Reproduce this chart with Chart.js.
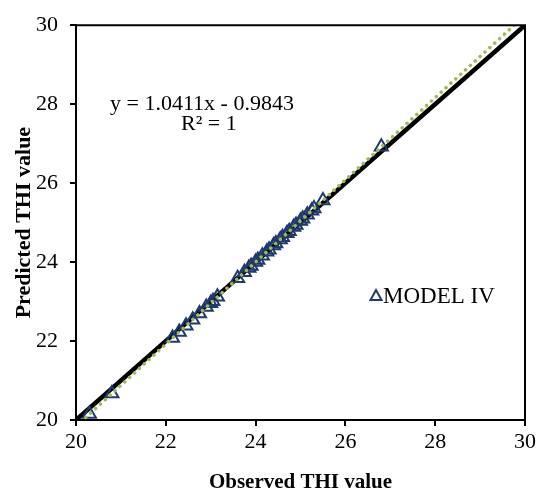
<!DOCTYPE html>
<html>
<head>
<meta charset="utf-8">
<script src="https://cdn.jsdelivr.net/npm/chart.js@4"></script>
<style>
  html, body { margin: 0; padding: 0; background: #fff; }
  #wrap { width: 545px; height: 496px; }
</style>
</head>
<body>
<div id="wrap"><canvas id="thiChart" width="545" height="496"></canvas></div>
<script>
// Observed vs predicted THI (MODEL IV)
const observed = [20.3, 20.8, 22.15, 22.3, 22.45, 22.6, 22.75, 22.9, 23.0, 23.05, 23.15,
  23.6, 23.75, 23.85, 23.9, 24.0, 24.05, 24.15, 24.25, 24.3, 24.4, 24.45, 24.55, 24.6,
  24.7, 24.75, 24.85, 24.9, 25.0, 25.05, 25.15, 25.25, 25.3, 25.5, 26.8];
const predicted = [20.15, 20.67, 22.08, 22.23, 22.39, 22.54, 22.70, 22.86, 22.96, 23.01, 23.12,
  23.59, 23.74, 23.85, 23.90, 24.00, 24.05, 24.16, 24.26, 24.31, 24.42, 24.47, 24.57, 24.63,
  24.73, 24.78, 24.89, 24.94, 25.04, 25.10, 25.20, 25.30, 25.36, 25.56, 26.92];

// 1:1 line and Excel linear trend line
const refLineX = [20, 30];
const refLineY = [20, 30];
const trendSlope = 1.0411;
const trendIntercept = -0.9843;
const trendX = [20, 30];

const axisTicks = [20, 22, 24, 26, 28, 30];

const serif = '"Liberation Serif", "Times New Roman", serif';

document.addEventListener('DOMContentLoaded', function() {
    const ctx = document.getElementById('thiChart').getContext('2d');

    // frame on top/right + equation + legend box
    const extras = {
        id: 'extras',
        afterDraw(chart) {
            const c = chart.ctx;
            const a = chart.chartArea;
            c.save();
            c.strokeStyle = '#000';
            c.lineWidth = 2;
            c.beginPath();
            c.moveTo(a.left, a.top);
            c.lineTo(a.right, a.top);
            c.lineTo(a.right, a.bottom);
            c.stroke();

            c.fillStyle = '#000';
            c.font = '22px ' + serif;
            c.textBaseline = 'alphabetic';
            c.fillText('y = 1.0411x - 0.9843', 110, 110);
            c.fillText('R\u00B2 = 1', 181, 130);

            // legend
            c.strokeStyle = '#1F3A6E';
            c.lineWidth = 2;
            c.beginPath();
            c.moveTo(376, 290);
            c.lineTo(381.5, 300);
            c.lineTo(370.5, 300);
            c.closePath();
            c.stroke();
            c.font = '23px ' + serif;
            c.fillText('MODEL IV', 383, 303);
            c.restore();
        }
    };

    new Chart(ctx, {
        type: 'scatter',
        data: {
            datasets: [
                {
                    label: 'Linear (MODEL IV)',
                    type: 'line',
                    data: trendX.map(x => ({ x: x, y: trendSlope * x + trendIntercept })),
                    borderColor: '#9BBB59',
                    borderWidth: 3.5,
                    borderDash: [0.1, 6.5],
                    borderCapStyle: 'round',
                    pointRadius: 0,
                    fill: false,
                    order: 0
                },
                {
                    label: 'MODEL IV',
                    data: observed.map((x, i) => ({ x: x, y: predicted[i] })),
                    pointStyle: 'triangle',
                    pointRadius: 7.5,
                    borderColor: '#1F3A6E',
                    borderWidth: 2,
                    backgroundColor: 'rgba(0,0,0,0)',
                    order: 1
                },
                {
                    label: '1:1',
                    type: 'line',
                    data: refLineX.map((x, i) => ({ x: x, y: refLineY[i] })),
                    borderColor: '#000',
                    borderWidth: 4.5,
                    pointRadius: 0,
                    fill: false,
                    order: 2
                }
            ]
        },
        options: {
            responsive: false,
            animation: false,
            layout: { padding: { top: 22, right: 20, left: 0, bottom: 0 } },
            plugins: {
                legend: { display: false },
                tooltip: { enabled: false }
            },
            scales: {
                x: {
                    type: 'linear',
                    min: 20,
                    max: 30,
                    afterBuildTicks: s => { s.ticks = axisTicks.map(v => ({ value: v })); },
                    afterFit: s => { s.height = 76; },
                    grid: { display: true, drawOnChartArea: false, tickLength: 6, color: '#000', lineWidth: 2 },
                    border: { color: '#000', width: 2 },
                    ticks: { color: '#000', font: { family: serif, size: 22 }, padding: 3, maxRotation: 0 },
                    title: {
                        display: true,
                        text: 'Observed THI value',
                        color: '#000',
                        font: { family: serif, size: 21, weight: 'bold' },
                        padding: { top: 0, bottom: 1 }
                    }
                },
                y: {
                    type: 'linear',
                    min: 20,
                    max: 30,
                    afterBuildTicks: s => { s.ticks = axisTicks.map(v => ({ value: v })); },
                    afterFit: s => { s.width = 76; },
                    grid: { display: true, drawOnChartArea: false, tickLength: 6, color: '#000', lineWidth: 2 },
                    border: { color: '#000', width: 2 },
                    ticks: { color: '#000', font: { family: serif, size: 22 }, padding: 12 },
                    title: {
                        display: true,
                        text: 'Predicted THI value',
                        color: '#000',
                        font: { family: serif, size: 22, weight: 'bold' },
                        padding: { top: 11, bottom: 0 }
                    }
                }
            }
        },
        plugins: [extras]
    });
});
</script>
</body>
</html>
